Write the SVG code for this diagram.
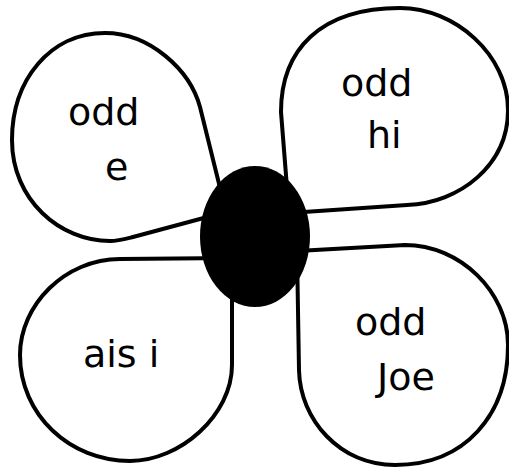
<svg xmlns="http://www.w3.org/2000/svg" width="509" height="467" viewBox="0 0 509 467">
<style>
.petal{fill:#fff;stroke:#000;stroke-width:4;stroke-linejoin:round}
.lbl{font-family:"DejaVu Sans","Liberation Sans",sans-serif;font-size:38px;fill:#000}
</style>
<rect width="509" height="467" fill="#fff"/>
<g id="petal-odd-e">
<path class="petal" d="M226,212 L200,107 C190,70 150,33 105,33 C50,33 12,80 12,140 C12,200 60,241 110,241 C118,241 125,239 133,237 Z"/>
<text class="lbl" x="68" y="125">odd</text>
<text class="lbl" x="105" y="180">e</text>
</g>
<g id="petal-odd-hi">
<path class="petal" d="M289,213 L281,112 C281,50 320,8 400,8 C455,8 508,55 508,110 C508,165 460,203 407,205 Z"/>
<text class="lbl" x="341" y="96">odd</text>
<text class="lbl" x="367" y="148">hi</text>
</g>
<g id="petal-ais-i">
<path class="petal" d="M232,258 L120,259 C65,259 20,305 20,355 C20,415 70,461 130,461 C180,461 232,415 232,365 Z"/>
<text class="lbl" x="83" y="367">ais i</text>
</g>
<g id="petal-odd-joe">
<path class="petal" d="M297,251 L405,245 C460,245 508,292 508,345 C508,415 465,465 395,465 C340,465 300,420 299,370 Z"/>
<text class="lbl" x="355" y="335">odd</text>
<text class="lbl" x="377" y="390">Joe</text>
</g>
<g id="connectors"></g>
<g id="center">
<ellipse cx="255" cy="236.5" rx="55" ry="70.5" fill="#000"/>
</g>
</svg>
